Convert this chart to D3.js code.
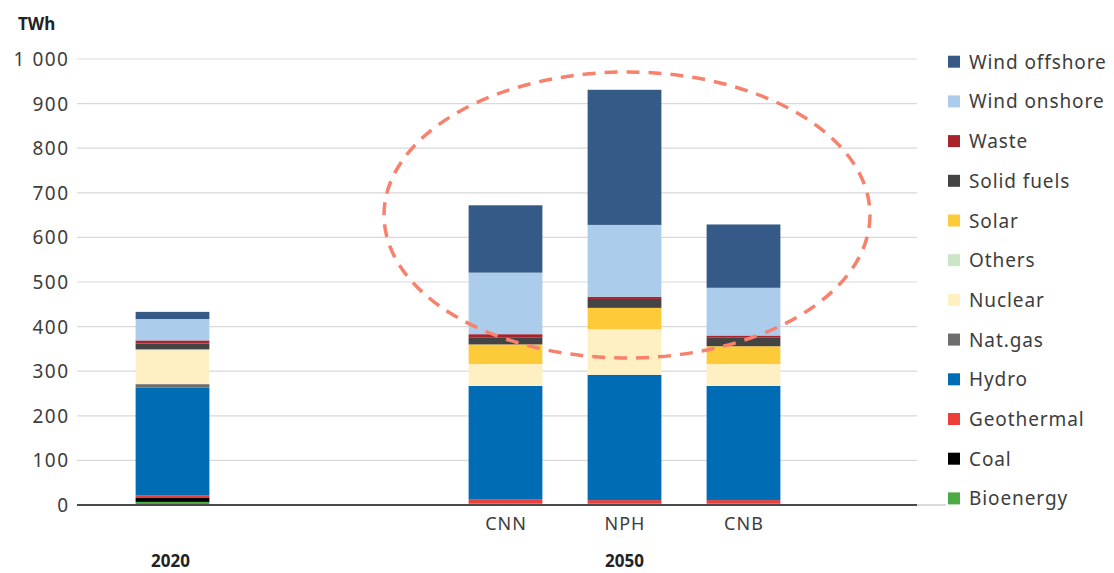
<!DOCTYPE html>
<html>
<head>
<meta charset="utf-8">
<script src="https://cdn.jsdelivr.net/npm/d3@7"></script>
<style>
  html, body { margin: 0; padding: 0; background: #fff; }
  svg { display: block; font-family: "Noto Sans", Lato, sans-serif; }
</style>
</head>
<body>
<svg id="chart" width="1114" height="573"></svg>
<script>
// Electricity generation by source, TWh
const columns = ["2020", "CNN", "NPH", "CNB"];
const groups2020 = ["2020"];
const scenarios2050 = ["CNN", "NPH", "CNB"];
const groupLabels = ["2020", "2050"];

const bioenergy    = [7, 4, 3, 4];
const coal         = [10, 0, 0, 0];
const geothermal   = [5, 8, 8, 7];
const hydro        = [241, 255, 281, 256];
const natGas       = [8, 0, 0, 0];
const nuclear      = [76, 49, 102, 49];
const others       = [1, 0, 0, 0];
const solar        = [1, 44, 48, 40];
const solidFuels   = [13, 15, 20, 19];
const waste        = [7, 8, 5, 5];
const windOnshore  = [48, 138, 161, 107];
const windOffshore = [16, 151, 303, 142];

const sourceNames = ["Bioenergy", "Coal", "Geothermal", "Hydro", "Nat.gas", "Nuclear",
                     "Others", "Solar", "Solid fuels", "Waste", "Wind onshore", "Wind offshore"];
const sourceValues = [bioenergy, coal, geothermal, hydro, natGas, nuclear,
                      others, solar, solidFuels, waste, windOnshore, windOffshore];
const sourceColors = ["#4caa45", "#000000", "#ec3f3c", "#006cb4", "#6d6d6d", "#fff0c4",
                      "#cbe5c6", "#fdcb3a", "#444444", "#a8232b", "#abcdeb", "#365a87"];

const yTicks = [0, 100, 200, 300, 400, 500, 600, 700, 800, 900, 1000];

// rows for the stack layout
const rows = columns.map((c, i) => {
  const r = { column: c };
  sourceNames.forEach((s, k) => { r[s] = sourceValues[k][i]; });
  return r;
});

const svg = d3.select("#chart");
const plotLeft = 77, plotRight = 917;
const textColor = "#3d3d3d";

const y = d3.scaleLinear().domain([0, 1000]).range([505, 59]);

// two column groups on the category axis
const x2020 = d3.scaleBand().domain(groups2020).range([113, 232])
  .paddingInner(0.38).paddingOuter(0.19);
const x2050 = d3.scaleBand().domain(scenarios2050).range([446, 803])
  .paddingInner(0.38).paddingOuter(0.19);
const xPos = c => groups2020.includes(c) ? x2020(c) : x2050(c);
const bw = x2050.bandwidth();

// gridlines
svg.append("g")
  .selectAll("line")
  .data(yTicks.filter(t => t > 0))
  .join("line")
  .attr("x1", plotLeft).attr("x2", plotRight)
  .attr("y1", d => y(d)).attr("y2", d => y(d))
  .attr("stroke", "#d9d9d9").attr("stroke-width", 1.2);

// y axis labels (space as thousands separator)
const fmt = d => d3.format(",")(d).replace(",", " ");
svg.append("g")
  .selectAll("text")
  .data(yTicks)
  .join("text")
  .attr("x", 69.5).attr("y", d => y(d))
  .attr("text-anchor", "end").attr("dominant-baseline", "central")
  .attr("font-size", 19).attr("letter-spacing", 1.5).attr("fill", textColor)
  .text(fmt);

svg.append("text")
  .attr("x", 18).attr("y", 23)
  .attr("dominant-baseline", "central")
  .attr("font-size", 17).attr("font-weight", "bold").attr("fill", "#222")
  .text("TWh");

// stacked bars
const stack = d3.stack().keys(sourceNames);
const layers = stack(rows);
svg.append("g")
  .selectAll("g")
  .data(layers)
  .join("g")
  .attr("fill", (d, i) => sourceColors[i])
  .selectAll("rect")
  .data(d => d)
  .join("rect")
  .attr("x", d => xPos(d.data.column))
  .attr("width", bw)
  .attr("y", d => y(d[1]))
  .attr("height", d => Math.max(0, y(d[0]) - y(d[1])));

// baseline
svg.append("line")
  .attr("x1", plotRight).attr("x2", 946).attr("y1", y(0)).attr("y2", y(0))
  .attr("stroke", "#cfcfcf").attr("stroke-width", 1.5);
svg.append("line")
  .attr("x1", plotLeft).attr("x2", plotRight).attr("y1", y(0)).attr("y2", y(0))
  .attr("stroke", "#4a4a4a").attr("stroke-width", 2);

// scenario labels
svg.append("g")
  .selectAll("text")
  .data(scenarios2050)
  .join("text")
  .attr("x", d => x2050(d) + bw / 2 + 0.5).attr("y", 523)
  .attr("text-anchor", "middle").attr("dominant-baseline", "central")
  .attr("font-size", 18).attr("letter-spacing", 1).attr("fill", textColor)
  .text(d => d);

// year labels
const groupCenters = [x2020("2020") + bw / 2 - 2, x2050("NPH") + bw / 2];
svg.append("g")
  .selectAll("text")
  .data(groupLabels)
  .join("text")
  .attr("x", (d, i) => groupCenters[i]).attr("y", 567)
  .attr("text-anchor", "middle")
  .attr("font-size", 17).attr("font-weight", "bold").attr("fill", "#222")
  .text(d => d);

// highlight ring around the 2050 scenarios
svg.append("ellipse")
  .attr("cx", 627).attr("cy", 215).attr("rx", 243).attr("ry", 143)
  .attr("fill", "none").attr("stroke", "#f7816c")
  .attr("stroke-width", 3.5).attr("stroke-dasharray", "13 9");

// legend (top entry = top of stack)
const legend = svg.append("g")
  .selectAll("g")
  .data(sourceNames.map((s, i) => ({ name: s, color: sourceColors[i] })).reverse())
  .join("g")
  .attr("transform", (d, i) => `translate(948, ${61.7 + i * 39.7})`);
legend.append("rect")
  .attr("x", 0).attr("y", -6).attr("width", 12).attr("height", 12)
  .attr("fill", d => d.color);
legend.append("text")
  .attr("x", 21).attr("y", 0)
  .attr("dominant-baseline", "central")
  .attr("font-size", 19).attr("letter-spacing", 0.9).attr("fill", textColor)
  .text(d => d.name);
</script>
</body>
</html>
